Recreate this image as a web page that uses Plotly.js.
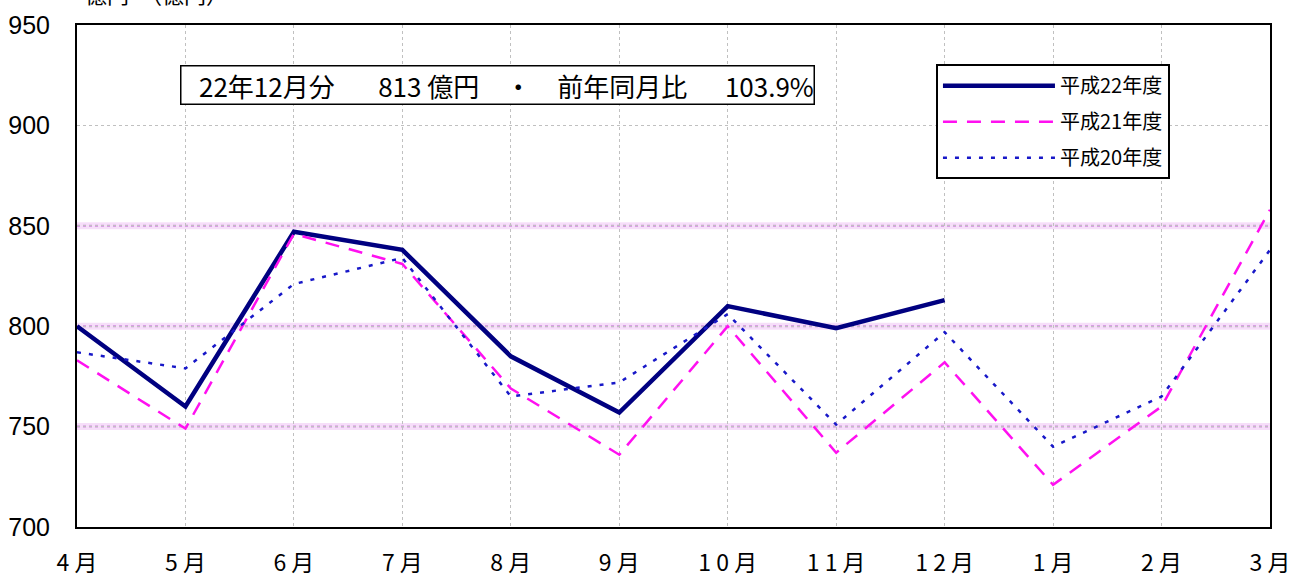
<!DOCTYPE html>
<html>
<head>
<meta charset="utf-8">
<script src="https://cdn.plot.ly/plotly-3.0.1.min.js"></script>
<style>
html,body{margin:0;padding:0;background:#fff;}
#chart{width:1292px;height:579px;}
</style>
</head>
<body>
<div id="chart"></div>
<script>
const months = ['4月','5月','6月','7月','8月','9月','10月','11月','12月','1月','2月','3月'];
const monthLabels = ['4 月','5 月','6 月','7 月','8 月','9 月','1 0 月','1 1 月','1 2 月','1 月','2 月','3 月'];
const h22 = [800, 760, 847, 838, 785, 757, 810, 799, 813];
const h21 = [783, 749, 846, 831, 769, 736, 800, 737, 782, 721, 760, 858];
const h20 = [787, 779, 821, 834, 765, 772, 806, 751, 797, 740, 765, 838];
const seriesNames = ['平成22年度', '平成21年度', '平成20年度'];
const yTicks = [700, 750, 800, 850, 900, 950];
const pinkGrid = [750, 800, 850];
const unitLabel = '億円　（億円）';
const summaryText = '\u00a0\u00a0\u00a022年12月分　\u00a0\u00a0 813 億円　・　前年同月比　\u00a0\u00a0103.9%';

const FONT = '"Liberation Sans", Arial, "Noto Sans CJK JP", sans-serif';

const traces = [
  {x: months.slice(0, h22.length), y: h22, name: seriesNames[0], legendgroup: 'a', mode: 'lines',
   line: {color: '#000080', width: 4.5}},
  {x: months, y: h21, name: seriesNames[1], legendgroup: 'b', mode: 'lines',
   line: {color: '#ff10f0', width: 2.5, dash: '14px,10px'}},
  {x: months, y: h20, name: seriesNames[2], legendgroup: 'c', mode: 'lines',
   line: {color: '#1818c8', width: 2.5, dash: '4px,8px'}}
];

const shapes = [];
pinkGrid.forEach(v => {
  shapes.push({type: 'line', xref: 'paper', x0: 0, x1: 1, yref: 'y', y0: v, y1: v,
    line: {color: 'rgba(240,200,245,0.6)', width: 7}, layer: 'below'});
  shapes.push({type: 'line', xref: 'paper', x0: 0, x1: 1, yref: 'y', y0: v, y1: v,
    line: {color: '#cf88e0', width: 2, dash: 'dot'}, layer: 'below'});
});

const layout = {
  width: 1292, height: 579,
  margin: {l: 77, r: 22, t: 25, b: 52},
  paper_bgcolor: '#fff', plot_bgcolor: '#fff',
  font: {family: FONT, size: 22, color: '#000'},
  showlegend: true,
  legend: {
    x: 0.72, y: 0.922, xanchor: 'left', yanchor: 'top',
    bgcolor: '#fff', bordercolor: '#000', borderwidth: 2,
    font: {family: '"Noto Sans CJK JP", sans-serif', size: 20, color: '#000'},
    tracegroupgap: 7, itemwidth: 112
  },
  xaxis: {
    type: 'category', categoryorder: 'array', categoryarray: months,
    tickvals: months, ticktext: monthLabels,
    range: [0, months.length - 1],
    showgrid: true, gridcolor: '#c0c0c0', griddash: 'dot', gridwidth: 1,
    showline: true, linecolor: '#000', linewidth: 2, mirror: true,
    ticks: '', ticklabelstandoff: 14,
    tickfont: {family: '"Noto Sans CJK JP", sans-serif', size: 23, color: '#000'},
    zeroline: false, fixedrange: true
  },
  yaxis: {
    range: [700, 950], tickvals: yTicks, ticktext: yTicks.map(String),
    showgrid: true, gridcolor: '#c0c0c0', griddash: 'dot', gridwidth: 1,
    showline: true, linecolor: '#000', linewidth: 2, mirror: true,
    ticks: '', ticklabelstandoff: 20,
    tickfont: {family: FONT, size: 25, color: '#000'},
    zeroline: false, fixedrange: true
  },
  shapes: shapes,
  annotations: [
    {text: summaryText, xref: 'paper', yref: 'paper', x: (497 - 77) / 1193, y: 1 - (85 - 25) / 502,
     xanchor: 'center', yanchor: 'middle', showarrow: false,
     font: {family: '"Noto Sans CJK JP", sans-serif', size: 26, color: '#000'},
     bgcolor: '#fff', bordercolor: '#000', borderwidth: 1.5, borderpad: 0},
    {text: unitLabel, xref: 'paper', yref: 'paper', x: (83 - 77) / 1193, y: 1,
     xanchor: 'left', yanchor: 'bottom', yshift: 14, showarrow: false,
     font: {family: '"Noto Sans CJK JP", sans-serif', size: 22, color: '#000'}}
  ]
};

Plotly.newPlot('chart', traces, layout, {staticPlot: true, displayModeBar: false});
</script>
</body>
</html>
